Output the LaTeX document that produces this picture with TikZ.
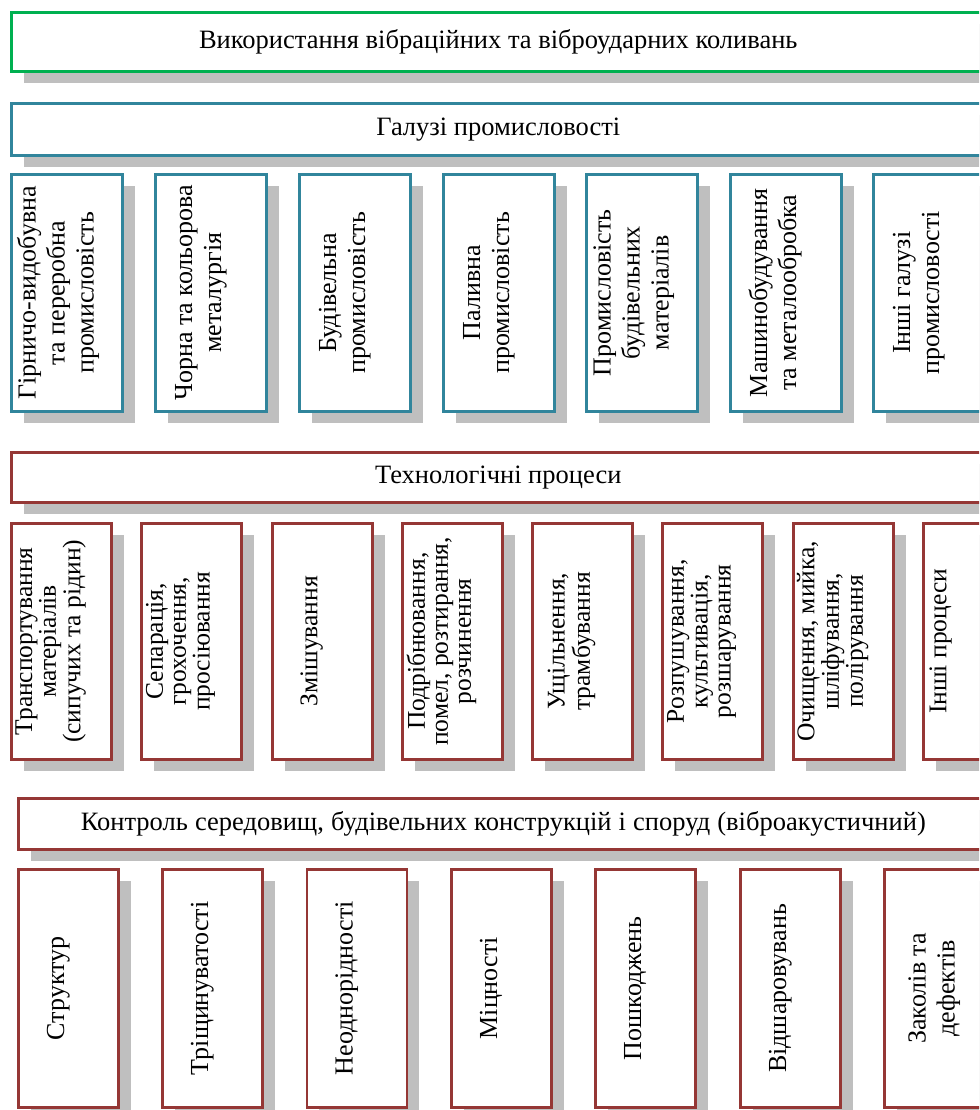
\documentclass[tikz,border=0pt]{standalone}
\usepackage{fontspec}
\setmainfont{Liberation Serif}
\usetikzlibrary{shadows}
\definecolor{cgreen}{HTML}{00B050}
\definecolor{cteal}{HTML}{31859C}
\definecolor{cred}{HTML}{953735}
\definecolor{cshadow}{HTML}{BFBFBF}
% rotated multi-line text; optional arg = extra space on the right (shifts text left by half)
\newcommand{\vlines}[2][20pt]{\rotatebox{90}{\begin{tabular}{@{}c@{}}#2\end{tabular}}\hspace*{#1}}
\tikzset{
  boxbase/.style={draw, line width=2.6pt, fill=white, rectangle, anchor=north west,
    inner sep=0pt, font=\fontsize{26}{29}\selectfont,
    drop shadow={shadow xshift=12.5pt, shadow yshift=-12pt, fill=cshadow, opacity=1}},
  wide/.style={boxbase, minimum height=#1, font=\fontsize{26.5}{29}\selectfont},
  gbox/.style={boxbase, draw=cteal, minimum width=111pt, minimum height=237pt},
  tbox/.style={boxbase, draw=cred, minimum width=100pt, minimum height=236pt,
    font=\fontsize{25.5}{23}\selectfont},
  kbox/.style={boxbase, draw=cred, minimum width=100pt, minimum height=238pt},
}
\begin{document}
\begin{tikzpicture}[x=1pt, y=-1pt]
\useasboundingbox (0,0) rectangle (979,1110);
\clip (0,0) rectangle (979,1110);
% row 1
\node[wide=59pt, draw=cgreen, minimum width=974pt] (title) at (10,11)
  {Використання вібраційних та віброударних коливань};
% row 2
\node[wide=52pt, draw=cteal, minimum width=974pt] (gal) at (10,102)
  {Галузі промисловості};
% row 3
\node[gbox] (g1) at (10,173) {\vlines[16pt]{Гірничо-видобувна\\та переробна\\промисловість}};
\node[gbox] (g2) at (154,173) {\vlines{Чорна та кольорова\\металургія}};
\node[gbox] (g3) at (298,173) {\vlines{Будівельна\\промисловість}};
\node[gbox] (g4) at (442,173) {\vlines{Паливна\\промисловість}};
\node[gbox] (g5) at (585,173) {\vlines[16pt]{Промисловість\\будівельних\\матеріалів}};
\node[gbox] (g6) at (729,173) {\vlines{Машинобудування\\та металообробка}};
\node[gbox] (g7) at (872,173) {\vlines{Інші галузі\\промисловості}};
% row 4
\node[wide=50pt, draw=cred, minimum width=974pt] (tech) at (10,451)
  {Технологічні процеси};
% row 5
\node[tbox] (t1) at (10,522) {\vlines{Транспортування\\матеріалів\\(сипучих та рідин)}};
\node[tbox] (t2) at (140,522) {\vlines{Сепарація,\\грохочення,\\просіювання}};
\node[tbox] (t3) at (271,522) {\vlines{Змішування}};
\node[tbox] (t4) at (401,522) {\vlines{Подрібнювання,\\помел, розтирання,\\розчинення}};
\node[tbox] (t5) at (531,522) {\vlines{Ущільнення,\\трамбування}};
\node[tbox] (t6) at (661,522) {\vlines{Розпушування,\\культивація,\\розшарування}};
\node[tbox] (t7) at (792,522) {\vlines{Очищення, мийка,\\шліфування,\\полірування}};
\node[tbox] (t8) at (922,522) {\vlines[64pt]{Інші процеси}};
% row 6
\node[wide=51pt, draw=cred, minimum width=970pt] (ctrl) at (17,797)
  {\makebox[845pt][s]{Контроль середовищ, будівельних конструкцій і споруд (віброакустичний)}};
% row 7
\node[kbox] (k1) at (17,868) {\vlines{Структур}};
\node[kbox] (k2) at (161,868) {\vlines{Тріщинуватості}};
\node[kbox] (k3) at (305.5,868) {\vlines{Неоднорідності}};
\node[kbox] (k4) at (450,868) {\vlines{Міцності}};
\node[kbox] (k5) at (594,868) {\vlines{Пошкоджень}};
\node[kbox] (k6) at (739,868) {\vlines{Відшаровувань}};
\node[kbox] (k7) at (883,868) {\vlines[0pt]{Заколів та\\дефектів}};
\end{tikzpicture}
\end{document}
